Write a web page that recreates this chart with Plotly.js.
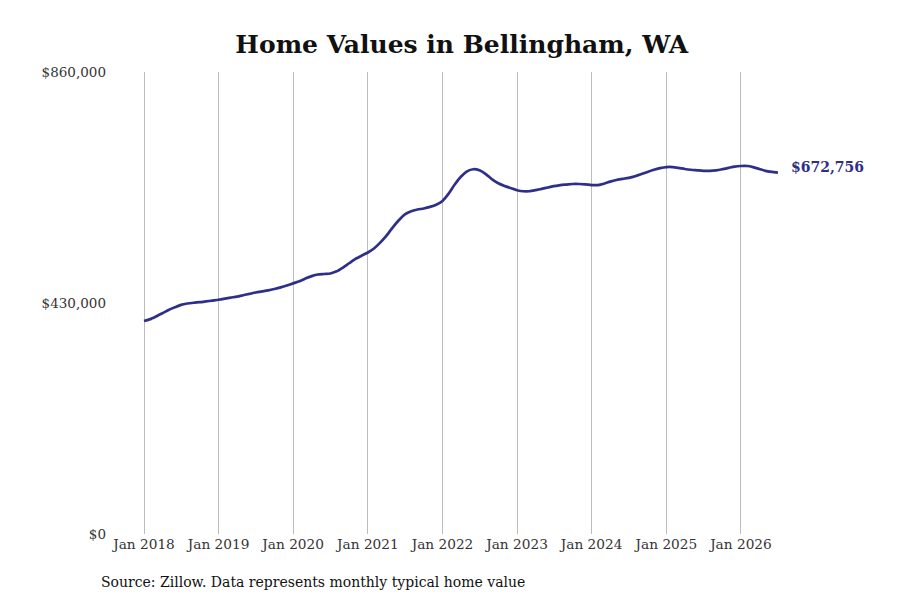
<!DOCTYPE html>
<html>
<head>
<meta charset="utf-8">
<script src="https://cdn.plot.ly/plotly-3.0.1.min.js"></script>
<style>
  html, body { margin: 0; padding: 0; background: #fff; }
  #plot { width: 900px; height: 600px; }
</style>
</head>
<body>
<div id="plot"></div>
<script>
// monthly typical home value, Jan 2018 .. Jul 2026 (thousands of dollars)
var startYear = 2018;
var values = [
    396.5, 400, 405, 411, 417, 422, 426.5, 429, 430.5, 431.5, 433, 434.5,   // 2018
    436, 438, 440, 442, 444.5, 447, 449.5, 451.5, 453.5, 456, 459, 462.5,   // 2019
    466.5, 470.5, 475.5, 480, 483, 484, 485, 489, 496, 504, 512, 518,       // 2020
    524, 532, 542, 555, 570, 584, 595, 601, 604, 606, 609, 613,             // 2021
    620, 634, 650, 665, 675, 679, 677, 670, 660, 653, 648, 644,             // 2022
    640, 638, 638, 640, 642.5, 645, 647.5, 649.5, 650.5, 651.5, 651.5, 651, // 2023
    649.5, 649.5, 652, 656, 659, 661, 663, 666, 670, 674, 678, 681,         // 2024
    683, 683, 681.5, 679.5, 678, 677, 676, 676, 677, 679, 681.5, 684,       // 2025
    685, 685, 683, 679.5, 676, 674, 672.756                                 // 2026
];
var tickDates = ['2018-01-01','2019-01-01','2020-01-01','2021-01-01','2022-01-01',
                 '2023-01-01','2024-01-01','2025-01-01','2026-01-01'];
var tickLabels = ['Jan 2018','Jan 2019','Jan 2020','Jan 2021','Jan 2022',
                  'Jan 2023','Jan 2024','Jan 2025','Jan 2026'];
var yTicks = [0, 430000, 860000];
var yLabels = ['$0', '$430,000', '$860,000'];
var lastLabel = '$672,756';

var lineColor = '#2f2f8a';
var serif = 'DejaVu Serif, serif';

var x = [], y = [];
for (var i = 0; i < values.length; ++i)
{
    var yr = startYear + Math.floor(i / 12);
    var mo = (i % 12) + 1;
    x.push(yr + '-' + (mo < 10 ? '0' + mo : mo) + '-01');
    y.push(values[i] * 1000);
}

var plotlyData = [{
    type: 'scatter',
    mode: 'lines',
    x: x, y: y,
    line: {color: lineColor, width: 2.7, shape: 'spline', smoothing: 0.6},
    hoverinfo: 'skip'
}];

var layout = {
    width: 900, height: 600,
    margin: {l: 115, r: 100, t: 72, b: 66},
    paper_bgcolor: '#fff',
    plot_bgcolor: '#fff',
    showlegend: false,
    title: {
        text: 'Home Values in Bellingham, WA',
        font: {family: serif, size: 25, color: '#111', weight: 'bold'},
        x: 0.513, xanchor: 'center',
        y: 0.927, yanchor: 'middle'
    },
    xaxis: {
        type: 'date',
        range: ['2017-08-12', '2026-10-17'],
        tickvals: tickDates,
        ticktext: tickLabels,
        showgrid: true,
        gridcolor: '#bdbdbd',
        gridwidth: 1,
        zeroline: false,
        showline: false,
        ticks: '',
        tickfont: {family: serif, size: 13.7, color: '#333'}
    },
    yaxis: {
        range: [0, 860000],
        tickvals: yTicks,
        ticktext: yLabels,
        showgrid: false,
        zeroline: false,
        showline: false,
        ticks: '',
        ticklabelstandoff: 8,
        tickfont: {family: serif, size: 13.5, color: '#333'}
    },
    annotations: [
        {
            x: x[x.length - 1], y: y[y.length - 1] + 10000,
            xref: 'x', yref: 'y',
            text: '<b>' + lastLabel + '</b>',
            showarrow: false,
            xanchor: 'left', yanchor: 'middle',
            xshift: 11,
            font: {family: serif, size: 14, color: lineColor}
        },
        {
            // source note sits in pixel space below the axis
            x: (99 - 115) / 685, y: -(582 - 534) / 462,
            xref: 'paper', yref: 'paper',
            text: 'Source: Zillow. Data represents monthly typical home value',
            showarrow: false,
            xanchor: 'left', yanchor: 'middle',
            font: {family: serif, size: 14, color: '#111'}
        }
    ]
};

Plotly.newPlot(document.getElementById('plot'), plotlyData, layout, {displayModeBar: false, staticPlot: true});
</script>
</body>
</html>
